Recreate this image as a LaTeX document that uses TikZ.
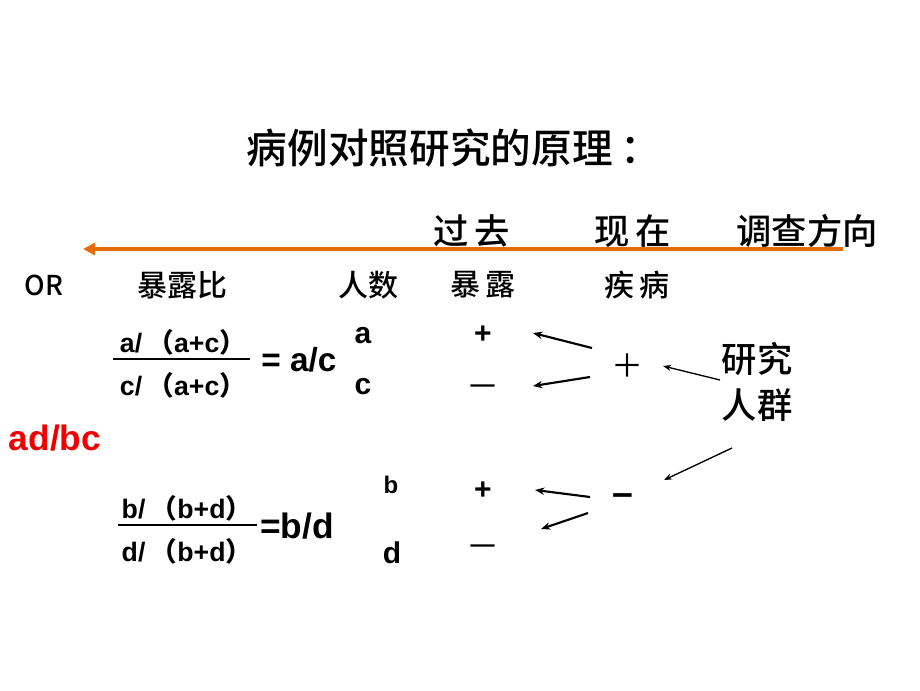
\documentclass[tikz,border=0pt]{standalone}
\usepackage{fontspec}
\usetikzlibrary{arrows.meta}
\setmainfont{Liberation Sans}
\newfontfamily\cjk{Noto Sans CJK SC}
\newfontfamily\cjkm{Noto Sans CJK SC}[UprightFont={* Medium}]
\definecolor{timeline}{RGB}{228,108,10}
\definecolor{orred}{RGB}{240,0,0}
\newcommand{\fz}[1]{\fontsize{#1}{#1}\selectfont}
\newcommand{\lp}{\kern4pt{\cjk （}}
\newcommand{\rp}{{\cjk ）}}
\begin{document}
\begin{tikzpicture}
[x=0.75pt,y=-0.75pt,
 title/.style={font=\cjkm\fz{30.5}},
 head/.style={font=\cjkm\fz{26.5}},
 lbl/.style={font=\cjkm\fz{22.5}},
 frac/.style={font=\bfseries\fz{20}},
 big/.style={font=\bfseries\fz{22.5}},
 arr/.style={-{Stealth[length=7pt,width=5.5pt]},line width=1.6pt},
 thinarr/.style={-{Stealth[length=6pt,width=4.5pt]},line width=1pt}
]
\tikzset{every node/.style={inner sep=0pt}}
\useasboundingbox (0,0) rectangle (920,690);

\node[title] (title) at (454,148) {病例对照研究的原理\kern6pt：};

% time line
\node[head] (past) at (472,231) {过\,去};
\node[head] (now) at (633,231) {现\,在};
\node[head] (dir) at (807,231) {调查方向};
\coordinate (tlr) at (843,249);
\coordinate (tll) at (83,249);
\draw[timeline,line width=3pt,-{Triangle[length=9pt,width=9pt]}] (tlr) -- (tll);

% column heads
\node[lbl,font=\cjkm\fz{20.5}] (or) at (44,285) {OR};
\node[lbl] (ratio) at (182,285) {暴露比};
\node[lbl] (num) at (368,285) {人数};
\node[lbl] (exp) at (483,285) {暴\,露};
\node[lbl] (dis) at (637,285) {疾\,病};

% cases
\node[frac] (n1) at (183,342) {a/\lp a+c\rp};
\node[frac] (d1) at (183,385) {c/\lp a+c\rp};
\coordinate (b1l) at (113,359);
\coordinate (b1r) at (250,359);
\draw[line width=2pt] (b1l) -- (b1r);
\node[font=\bfseries\fz{25}] (r1) at (299,360) {= a/c};
\node[big] (na) at (363,336) {a};
\node[big] (nc) at (363,387) {c};

\node[font=\bfseries\fz{26.5},text=orred] (orv) at (55,438) {ad/bc};

% controls
\node[frac] (n2) at (187,508) {b/\lp b+d\rp};
\node[frac] (d2) at (187,551) {d/\lp b+d\rp};
\coordinate (b2l) at (118,525);
\coordinate (b2r) at (257,525);
\draw[line width=2pt] (b2l) -- (b2r);
\node[font=\bfseries\fz{26.5}] (r2) at (297,526) {=b/d};
\node[font=\bfseries\fz{18}] (nb) at (391,485) {b};
\node[big] (nd) at (392,553) {d};

% exposure
\node[big] (ep1) at (483,335) {+};
\node[lbl] (en1) at (483,390) {—};
\node[big] (ep2) at (483,491) {+};
\node[lbl] (en2) at (483,550) {—};

% disease
\node[font=\cjk\fz{24}] (dp) at (627,366) {＋};
\node[font=\bfseries\fz{28}] (dn) at (623,500) {–};
\node[font=\cjkm\fontsize{26.5}{35}\selectfont,align=center] (grp) at (757,382) {研究\\人群};

\coordinate (a1s) at (592,348); \coordinate (a1e) at (533,333);
\coordinate (a2s) at (590,377); \coordinate (a2e) at (533,386);
\coordinate (a3s) at (590,497); \coordinate (a3e) at (535,490);
\coordinate (a4s) at (588,513); \coordinate (a4e) at (541,529);
\coordinate (g1s) at (720,380); \coordinate (g1e) at (663,366);
\coordinate (g2s) at (732,448); \coordinate (g2e) at (664,480);
\draw[arr] (a1s) -- (a1e);
\draw[arr] (a2s) -- (a2e);
\draw[arr] (a3s) -- (a3e);
\draw[arr] (a4s) -- (a4e);
\draw[thinarr] (g1s) -- (g1e);
\draw[thinarr] (g2s) -- (g2e);
\end{tikzpicture}
\end{document}
